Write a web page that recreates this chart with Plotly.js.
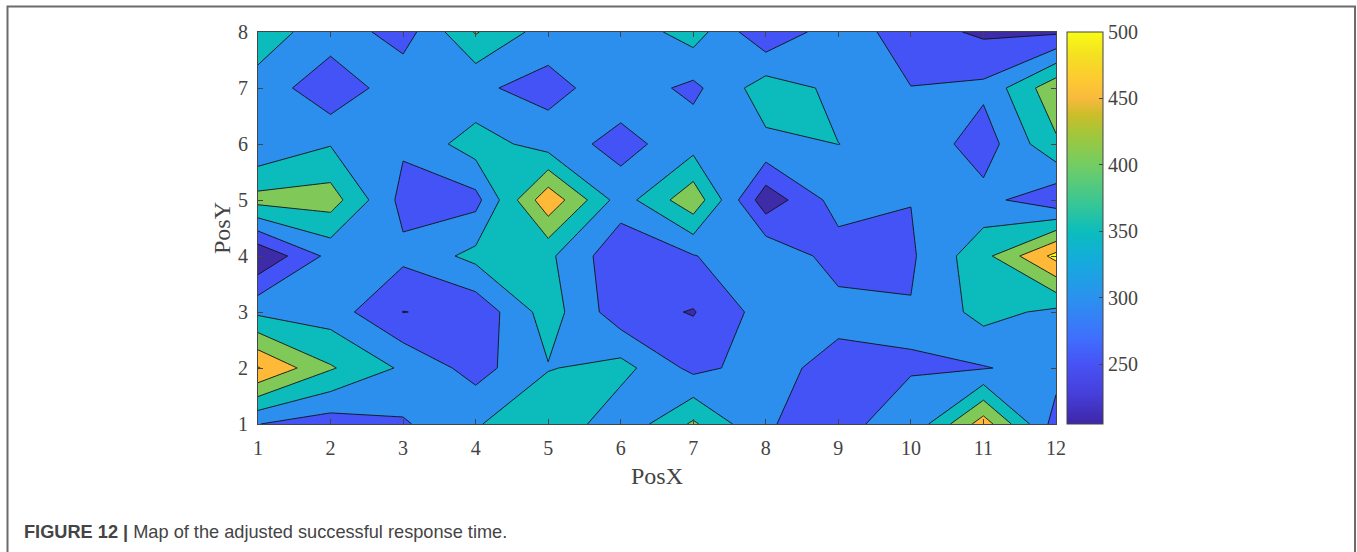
<!DOCTYPE html>
<html>
<head>
<meta charset="utf-8">
<script src="https://cdn.plot.ly/plotly-3.0.1.min.js"></script>
<style>html,body{margin:0;padding:0;background:#fff}#chart{width:1357px;height:552px}</style>
</head>
<body>
<div id="chart"></div>
<script>
const posX = [1,2,3,4,5,6,7,8,9,10,11,12];
const posY = [1,2,3,4,5,6,7,8];
const row1 = [301,274,294,345,395,312,408,301,294.5,309,476,278];
const row2 = [503,405,342,280,347,368,286,322,278,298.5,297,320];
const row3 = [340,325,249,263,374,269,247,322,320,303,368,338];
const row4 = [205,315,312,365,360,263,297,345,276,293,384,516];
const row5 = [418,424,284,283,487,326,435,218,322,301,317,262];
const row6 = [305,347,307,376,326,283,329,339,350.3,338,274,392];
const row7 = [338,258,337,308,283,328,288,376,338,301,311,435];
const row8 = [367,332,276,404,325,316,374,257,332,272,241,242];
const responseTime = [row1,row2,row3,row4,row5,row6,row7,row8];

const levelStart = 250, levelEnd = 500, levelStep = 50;
const bandColors = ['#3e2ba8','#4353f5','#2c8fee','#0cbcbc','#80c958','#ffb938','#f9fb15'];
const parula = [[0,'#3e26a8'],[0.08,'#4640dc'],[0.15,'#4752f4'],[0.22,'#3f6ffd'],[0.32,'#2b91ef'],[0.42,'#14acdb'],[0.49,'#0bbdbd'],[0.56,'#36c696'],[0.66,'#72cd64'],[0.74,'#a3c63a'],[0.79,'#ccbd2a'],[0.83,'#f8ba3d'],[0.88,'#fdca32'],[0.94,'#f4e021'],[1,'#f9fb15']];
const xTickVals = posX, yTickVals = posY, barTicks = [250,300,350,400,450,500];
const captionBold = 'FIGURE 12 |', captionText = ' Map of the adjusted successful response time.';

const stepped = [];
bandColors.forEach((c,i)=>{stepped.push([i/bandColors.length,c]);stepped.push([(i+1)/bandColors.length,c]);});

const serif = '"Liberation Serif","Times New Roman",serif';
const tickFont = {family:serif,size:20,color:'#444444'};
const titleFont = {family:serif,size:24,color:'#444444'};
const axisCommon = {showgrid:false,zeroline:false,showline:true,linecolor:'#444',linewidth:1,mirror:'ticks',ticks:'inside',ticklen:5,tickwidth:1,tickcolor:'#444',tickfont:tickFont};

const traces = [
 {type:'heatmap',x:posX,y:posY,z:responseTime,zmin:205,zmax:500,colorscale:parula,showscale:true,hoverinfo:'skip',
  colorbar:{x:1.0135,xanchor:'left',xpad:0,y:0.5,yanchor:'middle',len:1,lenmode:'fraction',ypad:0,thickness:36,thicknessmode:'pixels',
   outlinecolor:'#444',outlinewidth:1,tickmode:'array',tickvals:barTicks,ticks:'inside',ticklen:4,tickcolor:'#444',tickfont:tickFont,tickprefix:'\u00a0'}},
 {type:'contour',x:posX,y:posY,z:responseTime,autocontour:false,showscale:false,colorscale:stepped,
  contours:{coloring:'fill',start:levelStart,end:levelEnd,size:levelStep,showlines:true},
  line:{color:'#111',width:0.9,smoothing:0}}
];
const layout = {
 width:1357,height:552,margin:{l:258,r:301,t:32,b:128,pad:0},
 paper_bgcolor:'#fff',plot_bgcolor:'#fff',showlegend:false,
 xaxis:Object.assign({},axisCommon,{range:[1,12],tickmode:'array',tickvals:xTickVals,ticklabelstandoff:6,title:{text:'PosX',font:titleFont,standoff:9}}),
 yaxis:Object.assign({},axisCommon,{range:[1,8],tickmode:'array',tickvals:yTickVals,ticklabelstandoff:5,title:{text:'PosY',font:titleFont,standoff:0}}),
 shapes:[{type:'rect',xref:'paper',yref:'paper',x0:-0.3139,x1:1.3747,y0:-0.36,y1:1.065,line:{color:'#6b6b6b',width:2},fillcolor:'rgba(0,0,0,0)',layer:'below'}],
 annotations:[{xref:'paper',yref:'paper',x:-0.2962,y:-0.2765,xanchor:'left',yanchor:'middle',showarrow:false,align:'left',
  text:'<b>'+captionBold+'</b>'+captionText,font:{family:'"Liberation Sans",Arial,sans-serif',size:18.2,color:'#444444'}}]
};
Plotly.newPlot('chart',traces,layout,{displayModeBar:false,staticPlot:true});
</script>
</body>
</html>
